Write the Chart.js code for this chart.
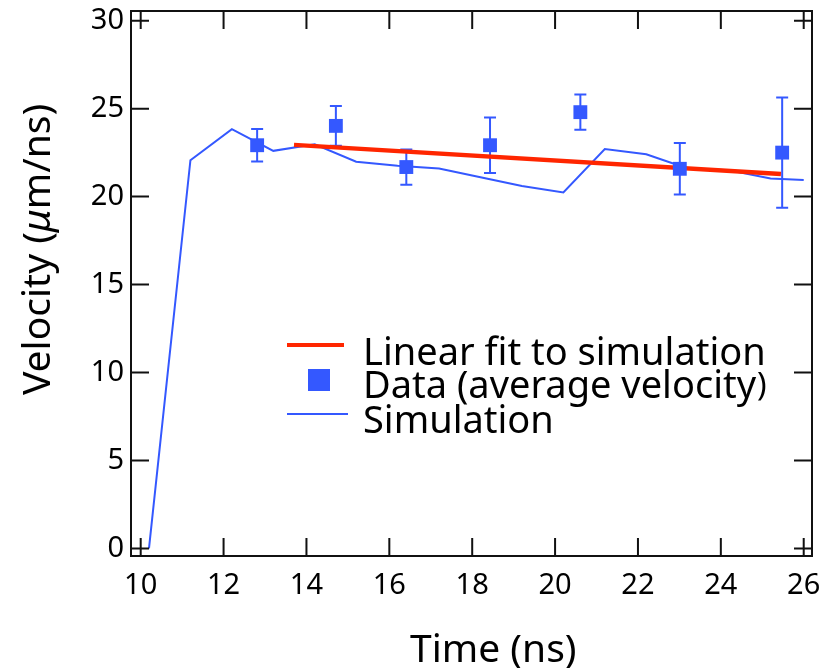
<!DOCTYPE html>
<html>
<head>
<meta charset="utf-8">
<script src="https://cdn.jsdelivr.net/npm/chart.js@4.4.0/dist/chart.umd.min.js"></script>
<style>
  html, body { margin: 0; padding: 0; background: #fff; }
</style>
</head>
<body>
<canvas id="chart" width="836" height="668"></canvas>
<script>
// simulated velocity trace (ns, um/ns)
const simTime = [10.2, 11.2, 12.2, 13.2, 14.2, 15.2, 16.2, 17.2, 18.2, 19.2, 20.2, 21.2, 22.2, 23.2, 24.2, 25.2, 26.0];
const simVel = [0, 22.07, 23.83, 22.6, 22.97, 21.98, 21.75, 21.6, 21.1, 20.6, 20.24, 22.7, 22.41, 21.6, 21.5, 21.03, 20.95];

// measured average velocities with error bars
const dataTime = [12.81, 14.71, 16.41, 18.43, 20.61, 23.01, 25.48];
const dataVel = [22.92, 24.02, 21.68, 22.92, 24.8, 21.58, 22.5];
const dataErr = [0.92, 1.13, 1.0, 1.58, 1.0, 1.46, 3.13];

// linear fit to the simulation, end points
const fitTime = [13.7, 25.45];
const fitVel = [22.94, 21.29];

const xTicks = [10, 12, 14, 16, 18, 20, 22, 24, 26];
const yTicks = [0, 5, 10, 15, 20, 25, 30];

const legendLabels = ["Linear fit to simulation", "Data (average velocity", "Simulation"];

const BLUE = "rgb(52, 88, 255)";
const RED = "rgb(255, 38, 0)";
const FONT = "'Noto Sans', 'DejaVu Sans', sans-serif";

const toPoints = (xs, ys) => xs.map((x, i) => ({ x: x, y: ys[i] }));

// error bars under the data squares
const errorBars = {
  id: "errorBars",
  beforeDatasetsDraw(chart) {
    const { ctx, scales: { x, y } } = chart;
    ctx.save();
    ctx.strokeStyle = BLUE;
    ctx.lineWidth = 2;
    dataTime.forEach((t, i) => {
      const px = x.getPixelForValue(t);
      const top = y.getPixelForValue(dataVel[i] + dataErr[i]);
      const bot = y.getPixelForValue(dataVel[i] - dataErr[i]);
      ctx.beginPath();
      ctx.moveTo(px, top); ctx.lineTo(px, bot);
      ctx.moveTo(px - 6, top); ctx.lineTo(px + 6, top);
      ctx.moveTo(px - 6, bot); ctx.lineTo(px + 6, bot);
      ctx.stroke();
    });
    ctx.restore();
  }
};

// box frame with inward ticks on all four sides, titles and legend
const frame = {
  id: "frame",
  afterDraw(chart) {
    const { ctx, chartArea: a, scales: { x, y } } = chart;
    const len = 18;
    ctx.save();
    ctx.strokeStyle = "#111";
    ctx.lineWidth = 2;
    ctx.strokeRect(a.left, a.top, a.right - a.left, a.bottom - a.top);
    ctx.beginPath();
    xTicks.forEach(v => {
      const px = x.getPixelForValue(v);
      ctx.moveTo(px, a.bottom); ctx.lineTo(px, a.bottom - len);
      ctx.moveTo(px, a.top); ctx.lineTo(px, a.top + len);
    });
    yTicks.forEach(v => {
      const py = y.getPixelForValue(v);
      ctx.moveTo(a.left, py); ctx.lineTo(a.left + len, py);
      ctx.moveTo(a.right, py); ctx.lineTo(a.right - len, py);
    });
    ctx.stroke();

    ctx.fillStyle = "#000";
    ctx.textBaseline = "alphabetic";
    ctx.textAlign = "left";

    // x title
    ctx.font = "39px " + FONT;
    ctx.fillText("Time (ns)", 410, 662);

    // y title, rotated, with an italic mu
    ctx.save();
    ctx.translate(50, 395);
    ctx.rotate(-Math.PI / 2);
    let cx = 0;
    [["Velocity (", ""], ["\u03bc", "italic "], ["m/ns)", ""]].forEach(([t, style]) => {
      ctx.font = style + "39px " + FONT;
      ctx.fillText(t, cx, 0);
      cx += ctx.measureText(t).width;
    });
    ctx.restore();

    // legend
    ctx.lineCap = "butt";
    ctx.strokeStyle = RED;
    ctx.lineWidth = 4;
    ctx.beginPath(); ctx.moveTo(287, 345); ctx.lineTo(344, 345); ctx.stroke();
    ctx.fillStyle = BLUE;
    ctx.fillRect(308, 369, 22, 22);
    ctx.strokeStyle = BLUE;
    ctx.lineWidth = 2;
    ctx.beginPath(); ctx.moveTo(287, 414); ctx.lineTo(348, 414); ctx.stroke();

    ctx.fillStyle = "#000";
    ctx.font = "38px " + FONT;
    ctx.fillText(legendLabels[0], 363, 365);
    ctx.fillText(legendLabels[1], 363, 398);
    const w = ctx.measureText(legendLabels[1]).width;
    ctx.font = "32px " + FONT;
    ctx.fillText(")", 363 + w + 1, 396);
    ctx.font = "38px " + FONT;
    ctx.fillText(legendLabels[2], 363, 433);
    ctx.restore();
  }
};

new Chart(document.getElementById("chart"), {
  type: "scatter",
  data: {
    datasets: [
      {
        label: "Data (average velocity)",
        data: toPoints(dataTime, dataVel),
        showLine: false,
        pointStyle: "rect",
        pointRadius: 9.8,
        pointBorderWidth: 0,
        backgroundColor: BLUE,
        borderColor: BLUE,
        order: 1
      },
      {
        label: "Linear fit to simulation",
        data: toPoints(fitTime, fitVel),
        showLine: true,
        borderColor: RED,
        borderWidth: 4.5,
        pointRadius: 0,
        order: 2
      },
      {
        label: "Simulation",
        data: toPoints(simTime, simVel),
        showLine: true,
        borderColor: BLUE,
        borderWidth: 2,
        pointRadius: 0,
        tension: 0,
        order: 3
      }
    ]
  },
  options: {
    responsive: false,
    animation: false,
    layout: { padding: { top: 11, right: 24, left: 0, bottom: 0 } },
    plugins: { legend: { display: false }, tooltip: { enabled: false } },
    scales: {
      x: {
        type: "linear",
        min: 9.766,
        max: 26.2,
        grid: { display: false, drawTicks: false },
        border: { display: false },
        afterBuildTicks: s => { s.ticks = xTicks.map(v => ({ value: v })); },
        afterFit: s => { s.height = 112; s.paddingLeft = 0; s.paddingRight = 0; },
        ticks: { color: "#000", padding: 12, maxRotation: 0, autoSkip: false, font: { family: FONT, size: 29 } }
      },
      y: {
        type: "linear",
        min: -0.43,
        max: 30.55,
        grid: { display: false, drawTicks: false },
        border: { display: false },
        afterBuildTicks: s => { s.ticks = yTicks.map(v => ({ value: v })); },
        afterFit: s => { s.width = 131; s.paddingTop = 0; s.paddingBottom = 0; },
        ticks: { color: "#000", padding: 7, autoSkip: false, font: { family: FONT, size: 29 } }
      }
    }
  },
  plugins: [errorBars, frame]
});
</script>
</body>
</html>
